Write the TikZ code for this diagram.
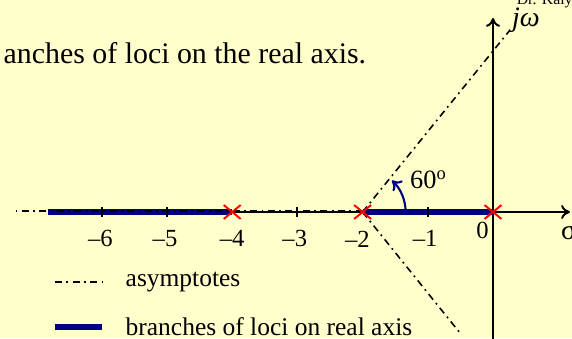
\documentclass[tikz,border=0pt]{standalone}
\usepackage{fontspec}
\setmainfont{Liberation Serif}
\usetikzlibrary{positioning,shapes.misc,arrows.meta}

\definecolor{paper}{HTML}{FFFFCC}
\definecolor{locus}{HTML}{000080}

\begin{document}
\begin{tikzpicture}[x=1.304cm, y=1.304cm, >={To[length=5pt,width=8pt]},
    axis/.style={line width=1.1pt},
    asym/.style={line width=0.9pt, dash pattern=on 4pt off 2.5pt on 1pt off 2.5pt},
    branch/.style={locus, line width=3pt},
    pole/.style={cross out, draw=red, line width=1.1pt, minimum width=0.3cm, minimum height=0.24cm, inner sep=0pt},
    ticklbl/.style={font=\fontsize{14}{16}\selectfont},
    legtxt/.style={font=\fontsize{14.5}{17}\selectfont, anchor=west}]

    % Background
    \useasboundingbox (-7.5613,-1.9325) rectangle (1.2117,3.2515);
    \clip (-7.5613,-1.9325) rectangle (1.2117,3.2515);
    \fill[paper] (-7.5613,-1.9325) rectangle (1.2117,3.2515);

    % Points
    \coordinate (s0) at (0,0);
    \coordinate (s2) at (-2,0);
    \coordinate (s4) at (-4,0);
    \coordinate (xstart) at (-6.825,0);
    \coordinate (xend) at (1.18,0);
    \coordinate (ystart) at (0,-2);
    \coordinate (yend) at (0,2.975);
    \coordinate (aleft) at (-7.33,0);
    \coordinate (aup) at (0.26,2.79);
    \coordinate (adown) at (-0.506,-1.856);

    % Axes
    \draw[axis,->] (xstart) -- (xend);
    \draw[axis,->] (ystart) -- (yend);

    % Branches on the real axis
    \draw[branch] (xstart) -- (s4);
    \draw[branch] (s2) -- (s0);

    % Ticks
    \draw[axis] (-6,0.075) -- (-6,-0.075);
    \draw[axis] (-5,0.075) -- (-5,-0.075);
    \draw[axis] (-3,0.075) -- (-3,-0.075);
    \draw[axis] (-1,0.075) -- (-1,-0.075);

    % Asymptotes
    \draw[asym] ([yshift=0.6pt]s2) -- ([yshift=0.6pt]aleft);
    \draw[asym] (s2) -- (aup);
    \draw[asym] (s2) -- (adown);

    % Angle
    \draw[locus, line width=1.2pt, ->] (s2) ++(0.66,0) arc[start angle=0, end angle=47, radius=0.66];
    \node[font=\fontsize{15}{18}\selectfont, anchor=base] (ang) at (-0.99,0.353) {60\textsuperscript{o}};

    % Poles
    \node[pole] (p0) at (s0) {};
    \node[pole] (p2) at (s2) {};
    \node[pole] (p4) at (s4) {};

    % Labels
    \node[ticklbl] (l6) at (-6.02,-0.40) {–6};
    \node[ticklbl] (l5) at (-5.03,-0.40) {–5};
    \node[ticklbl] (l4) at (-4.0,-0.40) {–4};
    \node[ticklbl] (l3) at (-3.04,-0.40) {–3};
    \node[ticklbl] (l2) at (-2.08,-0.42) {–2};
    \node[ticklbl] (l1) at (-1.04,-0.40) {–1};
    \node[ticklbl] (l0) at (-0.16,-0.28) {0};
    \node[font=\fontsize{16}{18}\selectfont] (sig) at (1.16,-0.31) {σ};
    \node[font=\fontsize{16}{18}\selectfont\itshape, anchor=base] (jw) at (0.506,2.84) {jω};
    \node[font=\fontsize{9}{11}\selectfont, anchor=base west] (dr) at (0.27,3.19) {Dr. Kaly};
    \node[font=\fontsize{17}{20}\selectfont, anchor=east] (title) at (-1.85,2.44) {anches of loci on the real axis.};

    % Legend
    \coordinate (la1) at (-6.718,-1.074);
    \coordinate (la2) at (-5.997,-1.074);
    \coordinate (lb1) at (-6.718,-1.764);
    \coordinate (lb2) at (-5.997,-1.764);
    \draw[asym] (la1) -- (la2);
    \draw[branch] (lb1) -- (lb2);
    \node[legtxt, right=0.35cm of la2] (lega) {asymptotes};
    \node[legtxt, right=0.35cm of lb2] (legb) {branches of loci on real axis};

\end{tikzpicture}
\end{document}
